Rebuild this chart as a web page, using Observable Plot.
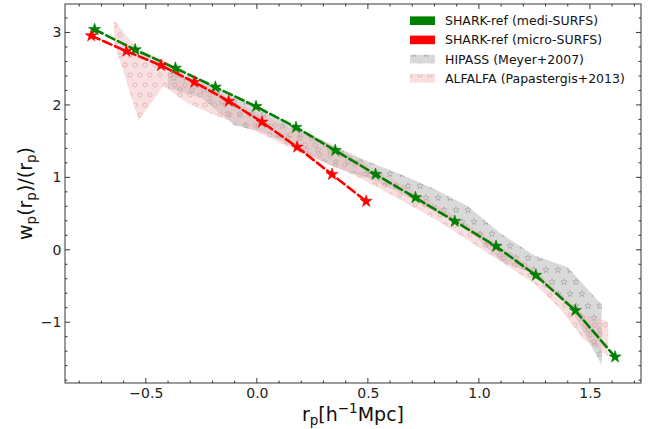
<!DOCTYPE html>
<html><head><meta charset="utf-8">
<script src="https://cdn.jsdelivr.net/npm/d3@7"></script>
<script src="https://cdn.jsdelivr.net/npm/@observablehq/plot@0.6"></script>
<style>body{margin:0;background:#fff}#chart{width:659px;height:429px}</style>
</head><body><div id="chart"></div>
<script>
// SHARK-ref (medi-SURFS)
const mediX = [-0.733, -0.550, -0.369, -0.189, -0.006, 0.174, 0.351, 0.532, 0.712, 0.889, 1.075, 1.254, 1.432, 1.611];
const mediY = [3.048, 2.768, 2.514, 2.252, 1.986, 1.697, 1.379, 1.048, 0.727, 0.400, 0.055, -0.345, -0.832, -1.472];
// SHARK-ref (micro-SURFS)
const microX = [-0.748, -0.590, -0.434, -0.284, -0.129, 0.021, 0.179, 0.336, 0.490];
const microY = [2.961, 2.749, 2.552, 2.321, 2.059, 1.770, 1.425, 1.048, 0.676];
// HIPASS (Meyer+2007) band
const hipassX = [-0.40, -0.25, -0.10, 0.05, 0.20, 0.35, 0.50, 0.65, 0.80, 0.95, 1.10, 1.25, 1.40, 1.553];
const hipassUpper = [2.45, 2.33, 2.13, 1.88, 1.66, 1.43, 1.22, 1.04, 0.84, 0.60, 0.22, -0.08, -0.24, -0.76];
const hipassLower = [2.23, 2.10, 1.72, 1.60, 1.36, 1.14, 0.99, 0.78, 0.53, 0.29, -0.16, -0.33, -0.74, -1.59];
// ALFALFA (Papastergis+2013) band
const alfalfaX = [-0.643, -0.532, -0.420, -0.309, -0.198, -0.087, 0.024, 0.136, 0.247, 0.358, 0.470, 0.581, 0.692, 0.804, 0.915, 1.027, 1.138, 1.250, 1.361, 1.472, 1.582];
const alfalfaUpper = [3.17, 2.75, 2.63, 2.40, 2.22, 2.02, 1.86, 1.70, 1.56, 1.42, 1.22, 1.03, 0.84, 0.63, 0.41, 0.20, -0.02, -0.27, -0.58, -0.90, -0.99];
const alfalfaLower = [2.86, 1.79, 2.26, 2.02, 1.87, 1.74, 1.60, 1.43, 1.28, 1.14, 0.98, 0.80, 0.61, 0.42, 0.20, -0.02, -0.24, -0.47, -0.80, -1.24, -1.47];

const xTicks = [-0.5, 0.0, 0.5, 1.0, 1.5];
const xMinorTicks = [-0.8, -0.7, -0.6, -0.4, -0.3, -0.2, -0.1, 0.1, 0.2, 0.3, 0.4, 0.6, 0.7, 0.8, 0.9, 1.1, 1.2, 1.3, 1.4, 1.6, 1.7];
const yTicks = [-1, 0, 1, 2, 3];
const yMinorTicks = [-1.8, -1.6, -1.4, -1.2, -0.8, -0.6, -0.4, -0.2, 0.2, 0.4, 0.6, 0.8, 1.2, 1.4, 1.6, 1.8, 2.2, 2.4, 2.6, 2.8, 3.2];
const legendLabels = ["SHARK-ref (medi-SURFS)", "SHARK-ref (micro-SURFS)", "HIPASS (Meyer+2007)", "ALFALFA (Papastergis+2013)"];

const medi = mediX.map((x, i) => ({x, y: mediY[i]}));
const micro = microX.map((x, i) => ({x, y: microY[i]}));
const hipass = hipassX.map((x, i) => ({x, lo: hipassLower[i], hi: hipassUpper[i]}));
const alfalfa = alfalfaX.map((x, i) => ({x, lo: alfalfaLower[i], hi: alfalfaUpper[i]}));

const GREEN = "#008000", RED = "#ff0000";
const GRAY_FACE = "rgb(185,185,185)", PINK_FACE = "rgb(238,180,180)";
const GRAY_OP = 0.55, PINK_OP = 0.42;

function defsMark() {
  const defs = d3.create("svg:defs");
  const s = 12;
  const ps = defs.append("pattern").attr("id", "starHatch").attr("patternUnits", "userSpaceOnUse")
    .attr("width", s).attr("height", 2 * s);
  const star = d3.symbol(d3.symbolStar, 12)();
  [[s / 2, s / 2], [0, 1.5 * s], [s, 1.5 * s]].forEach(([cx, cy]) => {
    ps.append("path").attr("d", star).attr("transform", `translate(${cx},${cy})`)
      .attr("fill", "rgb(235,235,235)").attr("fill-opacity", 0.5)
      .attr("stroke", "rgb(150,150,150)").attr("stroke-width", 0.8).attr("stroke-opacity", 0.75);
  });
  const c = 10;
  const pc = defs.append("pattern").attr("id", "circleHatch").attr("patternUnits", "userSpaceOnUse")
    .attr("width", c).attr("height", 2 * c);
  [[c / 2, c / 2], [0, 1.5 * c], [c, 1.5 * c]].forEach(([cx, cy]) => {
    pc.append("circle").attr("cx", cx).attr("cy", cy).attr("r", 2.1)
      .attr("fill", "none").attr("stroke", "rgb(210,140,140)").attr("stroke-width", 0.8).attr("stroke-opacity", 0.6);
  });
  return defs.node();
}

function frameMark(index, scales, values, dims) {
  const {x, y} = scales;
  const L = dims.marginLeft, R = dims.width - dims.marginRight, T = dims.marginTop, B = dims.height - dims.marginBottom;
  const g = d3.create("svg:g").attr("stroke", "#222").attr("stroke-width", 0.9).attr("fill", "none");
  g.append("rect").attr("x", L).attr("y", T).attr("width", R - L).attr("height", B - T);
  const tick = (x1, y1, x2, y2) => g.append("line").attr("x1", x1).attr("y1", y1).attr("x2", x2).attr("y2", y2);
  xTicks.forEach(t => { const px = x(t); tick(px, B, px, B - 5); tick(px, T, px, T + 5); });
  xMinorTicks.forEach(t => { const px = x(t); tick(px, B, px, B - 2.5); tick(px, T, px, T + 2.5); });
  yTicks.forEach(t => { const py = y(t); tick(L, py, L + 5, py); tick(R, py, R - 5, py); });
  yMinorTicks.forEach(t => { const py = y(t); tick(L, py, L + 2.5, py); tick(R, py, R - 2.5, py); });
  return g.node();
}

function labelsMark(index, scales, values, dims) {
  const L = dims.marginLeft, R = dims.width - dims.marginRight, T = dims.marginTop, B = dims.height - dims.marginBottom;
  const g = d3.create("svg:g").attr("font-family", "DejaVu Sans").attr("fill", "#111").attr("font-size", 19);
  const xl = g.append("text").attr("x", (L + R) / 2).attr("y", 421).attr("text-anchor", "middle");
  xl.append("tspan").text("r");
  xl.append("tspan").attr("font-size", 13.5).attr("dy", 4).text("p");
  xl.append("tspan").attr("dy", -4).text("[h");
  xl.append("tspan").attr("font-size", 13.5).attr("dy", -8).text("−1");
  xl.append("tspan").attr("dy", 8).text("Mpc]");
  const yl = g.append("text").attr("transform", `translate(32,${(T + B) / 2}) rotate(-90)`).attr("text-anchor", "middle");
  yl.append("tspan").text("w");
  yl.append("tspan").attr("font-size", 13.5).attr("dy", 4).text("p");
  yl.append("tspan").attr("dy", -4).text("(r");
  yl.append("tspan").attr("font-size", 13.5).attr("dy", 4).text("p");
  yl.append("tspan").attr("dy", -4).text(")/(r");
  yl.append("tspan").attr("font-size", 13.5).attr("dy", 4).text("p");
  yl.append("tspan").attr("dy", -4).text(")");
  return g.node();
}

function legendMark() {
  const g = d3.create("svg:g").attr("font-family", "DejaVu Sans").attr("font-size", 12.5).attr("fill", "#111")
    .attr("text-anchor", "start");
  const swatches = [
    [{fill: GREEN, op: 1}],
    [{fill: RED, op: 1}],
    [{fill: GRAY_FACE, op: GRAY_OP}, {fill: "url(#starHatch)", op: 1}],
    [{fill: PINK_FACE, op: PINK_OP}, {fill: "url(#circleHatch)", op: 1}]
  ];
  legendLabels.forEach((lab, i) => {
    const cy = 20.7 + i * 19.2;
    swatches[i].forEach(sw => {
      g.append("rect").attr("x", 410).attr("y", cy - 4.3).attr("width", 25).attr("height", 8.6)
        .attr("fill", sw.fill).attr("fill-opacity", sw.op);
    });
    g.append("text").attr("x", 445).attr("y", cy).attr("dy", "0.36em").attr("text-anchor", "start").text(lab);
  });
  return g.node();
}

const chart = Plot.plot({
  width: 659, height: 429,
  marginLeft: 65, marginRight: 18, marginTop: 4, marginBottom: 46,
  x: {domain: [-0.864, 1.730]},
  y: {domain: [-1.839, 3.393]},
  style: {fontFamily: "DejaVu Sans", fontSize: "14px", background: "white", color: "#222"},
  marks: [
    defsMark,
    Plot.areaY(hipass, {x: "x", y1: "lo", y2: "hi", fill: GRAY_FACE, fillOpacity: GRAY_OP}),
    Plot.areaY(hipass, {x: "x", y1: "lo", y2: "hi", fill: "url(#starHatch)"}),
    Plot.areaY(alfalfa, {x: "x", y1: "lo", y2: "hi", fill: PINK_FACE, fillOpacity: PINK_OP}),
    Plot.areaY(alfalfa, {x: "x", y1: "lo", y2: "hi", fill: "url(#circleHatch)"}),
    Plot.line(medi, {x: "x", y: "y", stroke: GREEN, strokeWidth: 2.6, strokeDasharray: "9,4"}),
    Plot.dot(medi, {x: "x", y: "y", symbol: "star", r: 3.8, fill: GREEN, stroke: GREEN, strokeWidth: 0.6}),
    Plot.line(micro, {x: "x", y: "y", stroke: RED, strokeWidth: 2.6, strokeDasharray: "9,4"}),
    Plot.dot(micro, {x: "x", y: "y", symbol: "star", r: 3.8, fill: RED, stroke: RED, strokeWidth: 0.6}),
    Plot.axisX(xTicks, {tickSize: 0, tickPadding: 5, tickFormat: d3.format(".1f"), fontSize: 14, label: null}),
    Plot.axisY(yTicks, {tickSize: 0, tickPadding: 4, tickFormat: d3.format("d"), fontSize: 14, label: null}),
    frameMark,
    labelsMark,
    legendMark
  ]
});
document.getElementById("chart").appendChild(chart);
</script>
</body></html>
